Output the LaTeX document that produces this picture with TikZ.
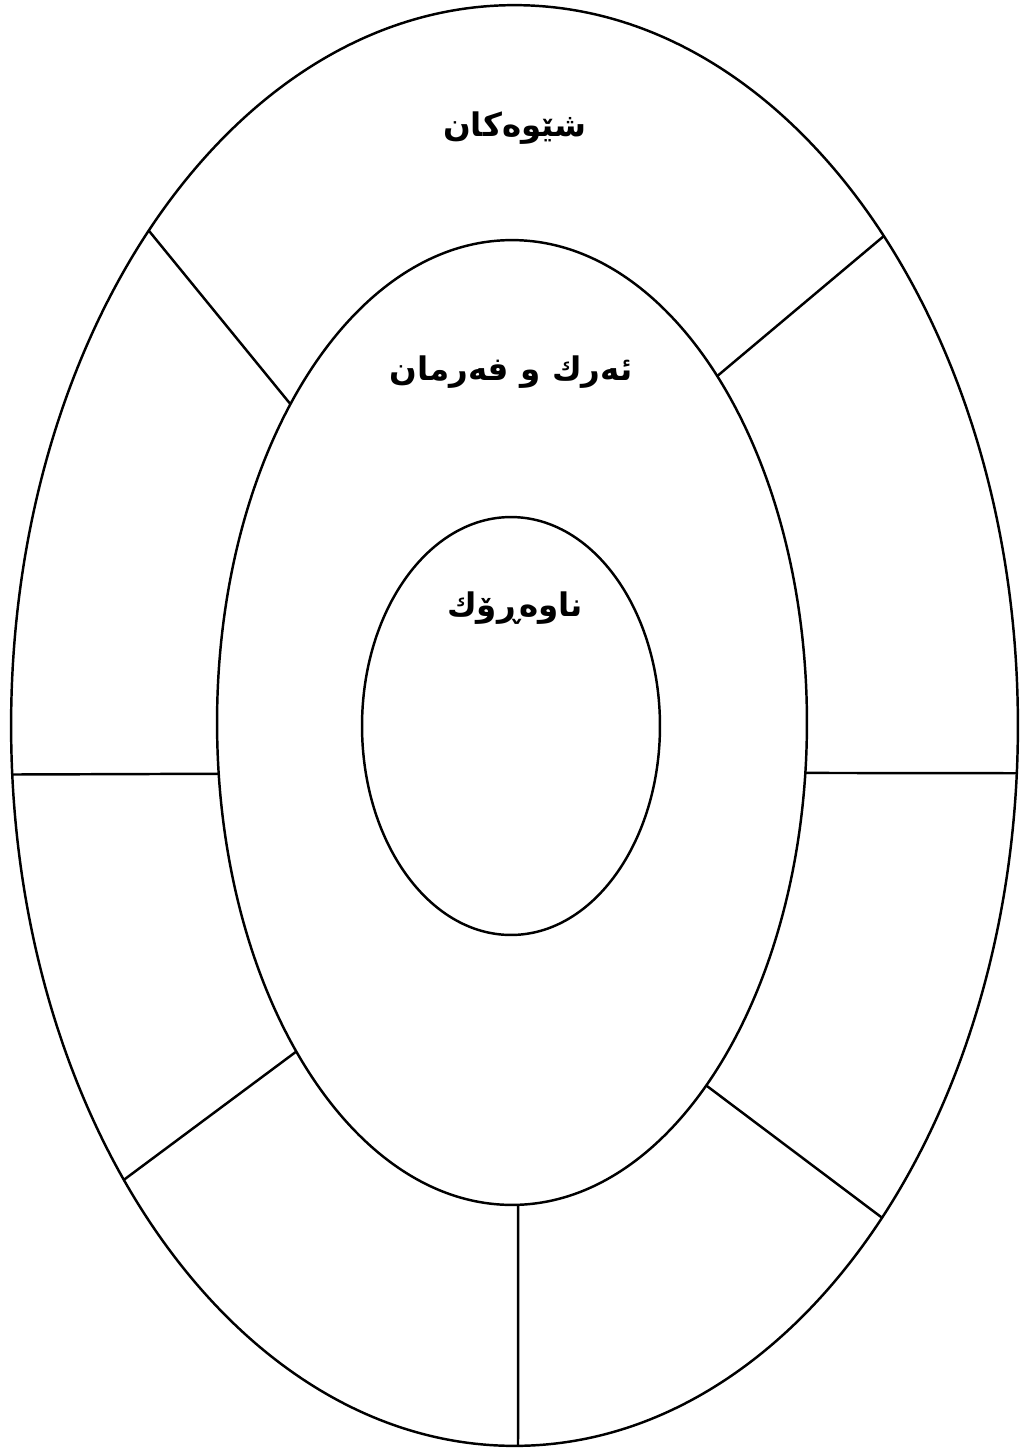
\documentclass[tikz,border=0pt]{standalone}
\usepackage{fontspec}
\newfontfamily\kurdfont[Script=Arabic]{DejaVu Sans}
\TeXXeTstate=1
\usetikzlibrary{shapes.geometric,calc}

\begin{document}
\begin{tikzpicture}[x=0.02cm,y=-0.02cm,
				ring/.style={draw=black,ellipse,inner sep=0pt,outer sep=0pt,line width=1.4pt},
				divider/.style={black,line width=1.4pt},
				lbl/.style={font=\kurdfont\bfseries\fontsize{18.5}{22}\selectfont}]
				\useasboundingbox (0,0) rectangle (1020,1448);
				
				\node[ring,minimum width=20.14cm,minimum height=28.82cm] (outer) at (514.5,725.5) {};
				\node[ring,minimum width=11.8cm,minimum height=19.3cm]   (mid)   at (512,722.5)   {};
				\node[ring,minimum width=5.96cm,minimum height=8.36cm]   (inner) at (511,726)     {};
				
				\draw[divider] ($(outer)+(223.4:503.5 and 720.5)$) -- ($(mid)+(221.3:295 and 482.5)$);
				\draw[divider] ($(outer)+(-42.8:503.5 and 720.5)$) -- ($(mid)+(-45.9:295 and 482.5)$);
				\draw[divider] ($(outer)+(176.1:503.5 and 720.5)$) -- ($(mid)+(173.9:295 and 482.5)$);
				\draw[divider] ($(outer)+(3.8:503.5 and 720.5)$)   -- ($(mid)+(6.0:295 and 482.5)$);
				\draw[divider] ($(outer)+(140.9:503.5 and 720.5)$) -- ($(mid)+(137.0:295 and 482.5)$);
				\draw[divider] ($(outer)+(43.1:503.5 and 720.5)$)  -- ($(mid)+(48.8:295 and 482.5)$);
				\draw[divider] ($(outer)+(89.6:503.5 and 720.5)$)  -- ($(mid)+(88.8:295 and 482.5)$);
				
				\node[lbl] (methods) at (515,128) {\beginR شێوەکان\endR};
				\node[lbl] (duties)  at (511,372) {\beginR ئەرك و فەرمان\endR};
				\node[lbl] (content) at (515,608) {\beginR ناوەڕۆك\endR};
			\end{tikzpicture}
\end{document}
